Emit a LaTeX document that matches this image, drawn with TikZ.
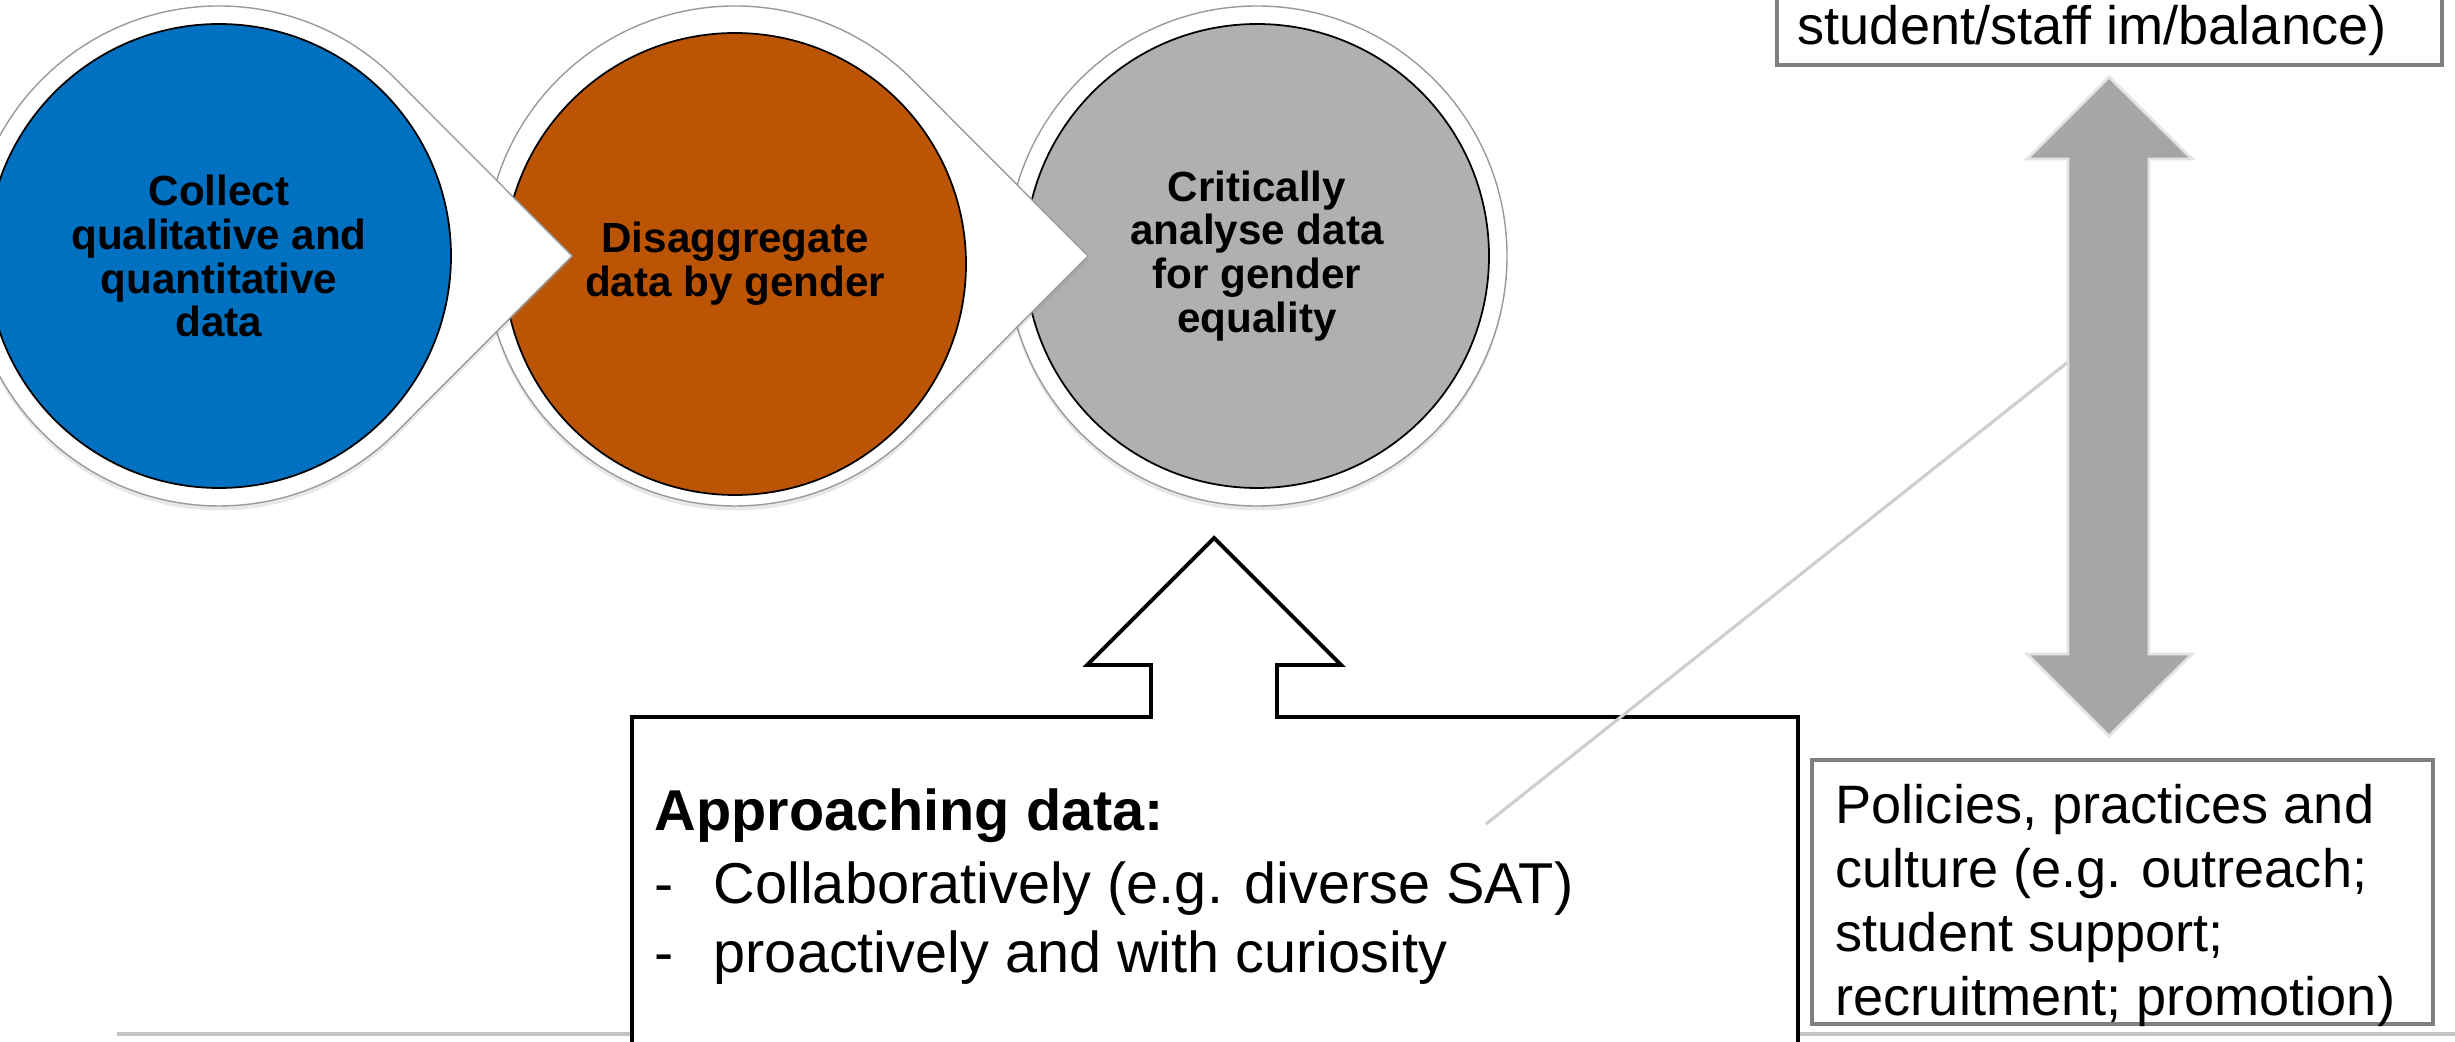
\documentclass[tikz,border=0pt]{standalone}
\usepackage{fontspec}
\setmainfont{Liberation Sans}
\usetikzlibrary{shadows}
\definecolor{cblue}{HTML}{0070C0}
\definecolor{corange}{HTML}{BB5505}
\definecolor{cgray}{HTML}{B0B0B0}
\definecolor{arrowgray}{HTML}{A6A6A6}
\definecolor{outlinegray}{HTML}{9A9A9A}
\definecolor{boxborder}{HTML}{7F7F7F}
\definecolor{lightline}{HTML}{CFCFCF}
\definecolor{footline}{HTML}{C4C4C4}
\begin{document}
\begin{tikzpicture}[x=0.1mm, y=-0.1mm,
  outershape/.style={fill=white, draw=outlinegray, line width=0.4pt,
    drop shadow={shadow xshift=0pt, shadow yshift=-0.45mm, opacity=0.18}},
  stepcircle/.style={circle, draw=black, line width=0.5pt, minimum size=46.4mm,
    inner sep=0pt, align=center, font=\bfseries\fontsize{12}{12.5}\selectfont},
  calloutbox/.style={draw=black, line width=1.1pt, fill=white},
  graybox/.style={draw=boxborder, line width=1.2pt, fill=white},
  bigtext/.style={anchor=base west, inner sep=0pt, font=\fontsize{16.4}{19}\selectfont},
  sidetext/.style={anchor=base west, inner sep=0pt, font=\fontsize{15.4}{18}\selectfont},
  dblarrow/.style={fill=arrowgray, draw=gray!22, line width=0.8pt},
  linkline/.style={draw=lightline, line width=0.9pt}]
\useasboundingbox (0,0) rectangle (2455,1042);
\clip (0,0) rectangle (2455,1042);

% footer line
\coordinate (footL) at (117,1034);
\coordinate (footR) at (2455,1034);
\draw[footline, line width=0.9pt] (footL) -- (footR);

% gray step
\path[outershape] (1257,256) circle[radius=250];
\node[stepcircle, fill=cgray] (c3) at (1257,256) {Critically\\analyse data\\for gender\\equality};

% orange step
\path[outershape] (1088,256) -- (911.8,79.2) arc[start angle=-45, end angle=-315, radius=250] -- cycle;
\node[stepcircle, fill=corange, minimum size=46.2mm] (c2) at (735,264) {Disaggregate\\data by gender};

% blue step
\path[outershape] (572,256) -- (395.8,79.2) arc[start angle=-45, end angle=-315, radius=250] -- cycle;
\node[stepcircle, fill=cblue] (c1) at (219,256) {Collect\\qualitative and\\quantitative\\data};

% up-arrow callout box
\draw[calloutbox] (632,1080) -- (632,717) -- (1151,717) -- (1151,665) -- (1087,665)
  -- (1214,538) -- (1341,665) -- (1277,665) -- (1277,717) -- (1798,717) -- (1798,1080) -- cycle;
\node[bigtext, font=\bfseries\fontsize{16.4}{19}\selectfont] (ap1) at (654,830) {Approaching data:};
\node[bigtext] (ap2) at (654,903) {\makebox[16.8pt][l]{-}Collaboratively (e.g. diverse SAT)};
\node[bigtext] (ap3) at (654,972) {\makebox[16.8pt][l]{-}proactively and with curiosity};

% link line
\coordinate (linkA) at (1486,824);
\coordinate (linkB) at (2068,362);
\draw[linkline] (linkA) -- (linkB);

% double arrow
\path[dblarrow] (2109,77) -- (2192,159) -- (2149,159) -- (2149,654) -- (2192,654) -- (2109,736)
  -- (2027,654) -- (2068,654) -- (2068,159) -- (2027,159) -- cycle;

% top box
\draw[graybox] (1777,-30) rectangle (2442,65);
\node[sidetext] (topt) at (1797,45) {student/staff im/balance)};

% bottom right box
\draw[graybox] (1812,760) rectangle (2433,1024);
\node[sidetext] (p1) at (1835,823) {Policies, practices and};
\node[sidetext] (p2) at (1835,887) {culture (e.g. outreach;};
\node[sidetext] (p3) at (1835,951) {student support;};
\node[sidetext] (p4) at (1835,1015) {recruitment; promotion)};
\end{tikzpicture}
\end{document}
